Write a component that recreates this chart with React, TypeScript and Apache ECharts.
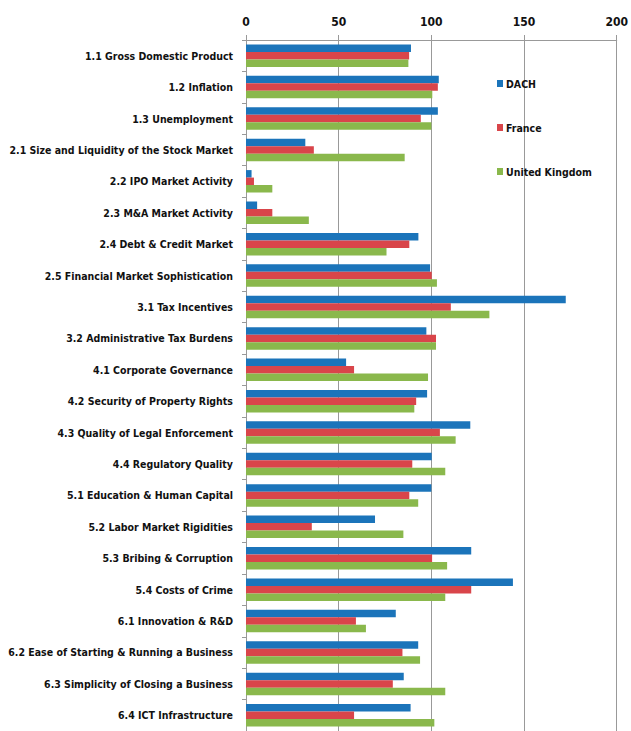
import React, { useEffect, useRef } from "react";
import * as echarts from "echarts";

const categories = [
  "1.1 Gross Domestic Product",
  "1.2 Inflation",
  "1.3 Unemployment",
  "2.1 Size and Liquidity of the Stock Market",
  "2.2 IPO Market Activity",
  "2.3 M&A Market Activity",
  "2.4 Debt & Credit Market",
  "2.5 Financial Market Sophistication",
  "3.1 Tax Incentives",
  "3.2 Administrative Tax Burdens",
  "4.1 Corporate Governance",
  "4.2 Security of Property Rights",
  "4.3 Quality of Legal Enforcement",
  "4.4 Regulatory Quality",
  "5.1 Education & Human Capital",
  "5.2 Labor Market Rigidities",
  "5.3 Bribing & Corruption",
  "5.4 Costs of Crime",
  "6.1 Innovation & R&D",
  "6.2 Ease of Starting & Running a Business",
  "6.3 Simplicity of Closing a Business",
  "6.4 ICT Infrastructure",
];

const dach = [89, 104, 103.5, 32, 3, 6, 93, 99.3, 172.5, 97.3, 54, 97.7, 121, 100.2, 100, 69.6, 121.5, 144, 80.8, 92.9, 85.1, 88.8];
const france = [88, 103.5, 94.3, 36.6, 4.3, 14.2, 88.1, 100.2, 110.5, 102.5, 58.3, 91.8, 104.6, 89.7, 88.1, 35.5, 100.4, 121.5, 59.3, 84.4, 79.2, 58.3];
const uk = [87.6, 100.5, 100, 85.6, 14.2, 33.9, 75.8, 103, 131.3, 102.5, 98.2, 90.8, 113.1, 107.5, 92.9, 84.9, 108.5, 107.5, 64.7, 93.9, 107.5, 101.6];

const seriesNames = ["DACH", "France", "United Kingdom"];
const xTicks = { min: 0, max: 200, interval: 50 };

const FONT = "'DejaVu Sans Condensed', 'Liberation Sans Narrow', sans-serif";
const COLORS = ["#1b74ba", "#d9454a", "#8ab84c"];

export default function App() {
  const ref = useRef<HTMLDivElement>(null);
  useEffect(() => {
    if (!ref.current) return;
    const chart = echarts.init(ref.current, undefined, { renderer: "svg" });
    const values = [dach, france, uk];
    chart.setOption({
      animation: false,
      backgroundColor: "#ffffff",
      color: COLORS,
      textStyle: { fontFamily: FONT },
      grid: { left: 246, top: 40, width: 375, height: 693, containLabel: false },
      legend: {
        orient: "vertical",
        left: 492,
        top: 73,
        itemGap: 33,
        itemWidth: 6,
        itemHeight: 7,
        itemStyle: { borderWidth: 0 },
        icon: "rect",
        data: seriesNames,
        textStyle: { fontFamily: FONT, fontWeight: "bold", fontSize: 10.5, color: "#111", padding: [0, 0, 0, -2] },
      },
      xAxis: {
        type: "value",
        position: "top",
        min: xTicks.min,
        max: xTicks.max,
        interval: xTicks.interval,
        axisLine: { show: true, lineStyle: { color: "#999", width: 1 } },
        axisTick: { show: true, length: 5, lineStyle: { color: "#999" } },
        splitLine: { show: true, lineStyle: { color: "#999", width: 1 } },
        axisLabel: { fontFamily: FONT, fontWeight: "bold", fontSize: 12, color: "#111", margin: 12 },
      },
      yAxis: {
        type: "category",
        data: categories,
        inverse: true,
        axisLine: { show: true, lineStyle: { color: "#999", width: 1 } },
        axisTick: { show: true, length: 4, alignWithLabel: false, lineStyle: { color: "#999" } },
        axisLabel: { fontFamily: FONT, fontWeight: "bold", fontSize: 10.5, color: "#111", margin: 13 },
      },
      series: seriesNames.map((name, i) => ({
        name,
        type: "bar",
        data: values[i],
        barWidth: 7.5,
        barGap: "0%",
        itemStyle: { color: COLORS[i] },
      })),
    });
    return () => chart.dispose();
  }, []);
  return (
    <div
      ref={ref}
      style={{ position: "fixed", left: 0, top: 0, width: 631, height: 731, background: "#fff" }}
    />
  );
}
